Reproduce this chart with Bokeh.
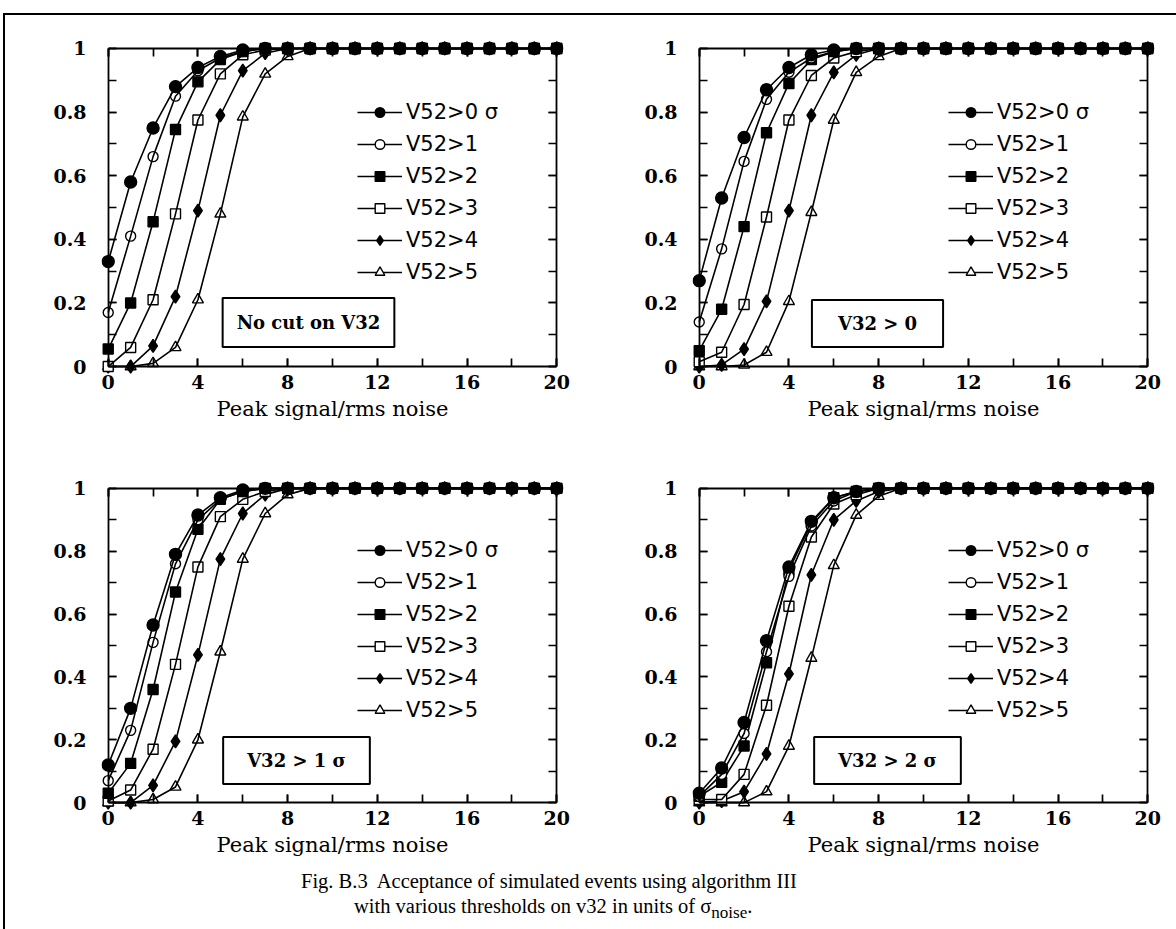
from bokeh.plotting import figure
from bokeh.models import (LinearAxis, SingleIntervalTicker, CustomJSTickFormatter,
                          Legend, LegendItem, Label, Range1d, Div)
from bokeh.layouts import row, column
from bokeh.embed import file_html
from bokeh.resources import INLINE

# ---------------- data ----------------
x_vals = [0, 1, 2, 3, 4, 5, 6, 7, 8, 9, 10, 11, 12, 13, 14, 15, 16, 17, 18, 19, 20]
series_labels = ["V52>0 σ", "V52>1", "V52>2", "V52>3", "V52>4", "V52>5"]
x_axis_title = "Peak signal/rms noise"
panel_titles = ["No cut on V32", "V32 > 0", "V32 > 1 σ", "V32 > 2 σ"]
caption_line1 = "Fig. B.3&nbsp; Acceptance of simulated events using algorithm III"
caption_line2 = "with various thresholds on v32 in units of σ<sub>noise</sub>."
x_limits = (0, 20)
y_limits = (0, 1)

# Panel 1: No cut on V32
nocut_v0 = [0.33, 0.58, 0.75, 0.88, 0.94, 0.975, 0.995, 1, 1, 1, 1, 1, 1, 1, 1, 1, 1, 1, 1, 1, 1]
nocut_v1 = [0.17, 0.41, 0.66, 0.85, 0.93, 0.97, 0.99, 1, 1, 1, 1, 1, 1, 1, 1, 1, 1, 1, 1, 1, 1]
nocut_v2 = [0.055, 0.20, 0.455, 0.745, 0.895, 0.965, 0.99, 1, 1, 1, 1, 1, 1, 1, 1, 1, 1, 1, 1, 1, 1]
nocut_v3 = [0.0, 0.06, 0.21, 0.48, 0.775, 0.92, 0.98, 0.995, 1, 1, 1, 1, 1, 1, 1, 1, 1, 1, 1, 1, 1]
nocut_v4 = [0.0, 0.0, 0.065, 0.22, 0.49, 0.79, 0.93, 0.985, 1, 1, 1, 1, 1, 1, 1, 1, 1, 1, 1, 1, 1]
nocut_v5 = [0.0, 0.0, 0.01, 0.06, 0.21, 0.48, 0.785, 0.92, 0.975, 1, 1, 1, 1, 1, 1, 1, 1, 1, 1, 1, 1]

# Panel 2: V32 > 0
c0_v0 = [0.27, 0.53, 0.72, 0.87, 0.94, 0.98, 0.995, 1, 1, 1, 1, 1, 1, 1, 1, 1, 1, 1, 1, 1, 1]
c0_v1 = [0.14, 0.37, 0.645, 0.84, 0.925, 0.97, 0.99, 1, 1, 1, 1, 1, 1, 1, 1, 1, 1, 1, 1, 1, 1]
c0_v2 = [0.05, 0.18, 0.44, 0.735, 0.89, 0.965, 0.99, 1, 1, 1, 1, 1, 1, 1, 1, 1, 1, 1, 1, 1, 1]
c0_v3 = [0.015, 0.045, 0.195, 0.47, 0.775, 0.915, 0.97, 0.99, 1, 1, 1, 1, 1, 1, 1, 1, 1, 1, 1, 1, 1]
c0_v4 = [0.0, 0.005, 0.055, 0.205, 0.49, 0.79, 0.925, 0.98, 1, 1, 1, 1, 1, 1, 1, 1, 1, 1, 1, 1, 1]
c0_v5 = [0.0, 0.0, 0.005, 0.045, 0.205, 0.485, 0.775, 0.925, 0.975, 1, 1, 1, 1, 1, 1, 1, 1, 1, 1, 1, 1]

# Panel 3: V32 > 1 sigma
c1_v0 = [0.12, 0.30, 0.565, 0.79, 0.915, 0.97, 0.995, 1, 1, 1, 1, 1, 1, 1, 1, 1, 1, 1, 1, 1, 1]
c1_v1 = [0.07, 0.23, 0.51, 0.76, 0.90, 0.965, 0.99, 1, 1, 1, 1, 1, 1, 1, 1, 1, 1, 1, 1, 1, 1]
c1_v2 = [0.03, 0.125, 0.36, 0.67, 0.87, 0.965, 0.99, 1, 1, 1, 1, 1, 1, 1, 1, 1, 1, 1, 1, 1, 1]
c1_v3 = [0.005, 0.04, 0.17, 0.44, 0.75, 0.91, 0.965, 0.99, 1, 1, 1, 1, 1, 1, 1, 1, 1, 1, 1, 1, 1]
c1_v4 = [0.0, 0.0, 0.055, 0.195, 0.47, 0.775, 0.92, 0.98, 1, 1, 1, 1, 1, 1, 1, 1, 1, 1, 1, 1, 1]
c1_v5 = [0.0, 0.0, 0.01, 0.05, 0.20, 0.48, 0.775, 0.92, 0.98, 1, 1, 1, 1, 1, 1, 1, 1, 1, 1, 1, 1]

# Panel 4: V32 > 2 sigma
c2_v0 = [0.03, 0.11, 0.255, 0.515, 0.75, 0.895, 0.97, 0.99, 1, 1, 1, 1, 1, 1, 1, 1, 1, 1, 1, 1, 1]
c2_v1 = [0.02, 0.09, 0.22, 0.48, 0.72, 0.88, 0.96, 0.99, 1, 1, 1, 1, 1, 1, 1, 1, 1, 1, 1, 1, 1]
c2_v2 = [0.02, 0.065, 0.18, 0.445, 0.74, 0.89, 0.97, 0.99, 1, 1, 1, 1, 1, 1, 1, 1, 1, 1, 1, 1, 1]
c2_v3 = [0.01, 0.01, 0.09, 0.31, 0.625, 0.845, 0.95, 0.98, 1, 1, 1, 1, 1, 1, 1, 1, 1, 1, 1, 1, 1]
c2_v4 = [0.0, 0.005, 0.035, 0.155, 0.41, 0.725, 0.90, 0.96, 0.99, 1, 1, 1, 1, 1, 1, 1, 1, 1, 1, 1, 1]
c2_v5 = [0.0, 0.0, 0.0, 0.035, 0.18, 0.46, 0.755, 0.915, 0.975, 1, 1, 1, 1, 1, 1, 1, 1, 1, 1, 1, 1]

panels_data = [
    [nocut_v0, nocut_v1, nocut_v2, nocut_v3, nocut_v4, nocut_v5],
    [c0_v0, c0_v1, c0_v2, c0_v3, c0_v4, c0_v5],
    [c1_v0, c1_v1, c1_v2, c1_v3, c1_v4, c1_v5],
    [c2_v0, c2_v1, c2_v2, c2_v3, c2_v4, c2_v5],
]

# ---------------- styles ----------------
marker_styles = [
    dict(marker="circle", size=12, fill_color="black"),
    dict(marker="circle", size=10, fill_color="white"),
    dict(marker="square", size=10, fill_color="black"),
    dict(marker="square", size=10, fill_color="white"),
    dict(marker="diamond", size=13, fill_color="black"),
    dict(marker="triangle", size=11, fill_color="white"),
]

SERIF = "DejaVu Serif"
SANS = "DejaVu Sans"
PAD_X = 0.3      # extra room so edge markers are not clipped
PAD_Y = 0.025
EMPTY = "return '';"


def x_ticker():
    return SingleIntervalTicker(interval=4, num_minor_ticks=2)


def y_ticker():
    return SingleIntervalTicker(interval=0.2, num_minor_ticks=2)


def frame_axis(ticker, loc, bounds):
    """Axis drawn at a fixed data location: gives the box line and its inward ticks."""
    ax = LinearAxis(ticker=ticker, fixed_location=loc, bounds=bounds,
                    formatter=CustomJSTickFormatter(code=EMPTY))
    ax.axis_line_color = "black"
    ax.axis_line_width = 1.8
    ax.major_tick_in = 8
    ax.major_tick_out = 0
    ax.minor_tick_in = 8
    ax.minor_tick_out = 0
    ax.major_tick_line_width = 1.7
    ax.minor_tick_line_width = 1.7
    ax.major_tick_line_color = "black"
    ax.minor_tick_line_color = "black"
    ax.major_label_standoff = 0
    ax.major_label_text_font_size = "1px"
    return ax


def label_axis(ticker, standoff):
    """Axis at the frame edge that only carries the tick labels."""
    ax = LinearAxis(ticker=ticker)
    ax.axis_line_color = None
    ax.major_tick_line_color = None
    ax.minor_tick_line_color = None
    ax.major_tick_in = 0
    ax.major_tick_out = 0
    ax.minor_tick_in = 0
    ax.minor_tick_out = 0
    ax.major_label_standoff = standoff
    ax.major_label_text_font = SERIF
    ax.major_label_text_font_size = "19px"
    ax.major_label_text_font_style = "bold"
    ax.major_label_text_color = "black"
    return ax


def make_panel(data, title, left_border, right_border, top_border, bottom_border,
               frame_h, legend_x, legend_y, box_x, box_y, box_pad_h, box_pad_v):
    p = figure(frame_width=462, frame_height=frame_h,
               x_range=Range1d(x_limits[0] - PAD_X, x_limits[1] + PAD_X),
               y_range=Range1d(y_limits[0] - PAD_Y, y_limits[1] + PAD_Y),
               output_backend="svg", toolbar_location=None,
               x_axis_type=None, y_axis_type=None,
               min_border_left=left_border, min_border_right=right_border,
               min_border_top=top_border, min_border_bottom=bottom_border,
               background_fill_color="white", border_fill_color="white")
    p.xgrid.visible = False
    p.ygrid.visible = False
    p.outline_line_color = None

    # box lines with inward ticks, at the data limits (each on its natural side)
    p.add_layout(frame_axis(x_ticker(), y_limits[0], x_limits), "below")
    p.add_layout(frame_axis(y_ticker(), x_limits[0], y_limits), "left")
    p.add_layout(frame_axis(x_ticker(), y_limits[1], x_limits), "above")
    p.add_layout(frame_axis(y_ticker(), x_limits[1], y_limits), "right")

    # labelled axes outside the box
    lb = label_axis(x_ticker(), 0)
    lb.axis_label = x_axis_title
    lb.axis_label_text_font = SERIF
    lb.axis_label_text_font_size = "21px"
    lb.axis_label_text_font_style = "normal"
    lb.axis_label_text_color = "black"
    lb.axis_label_standoff = 5
    ll = label_axis(y_ticker(), 15)
    ll.formatter = CustomJSTickFormatter(code="return Number(tick.toFixed(1)).toString();")
    p.add_layout(lb, "below")
    p.add_layout(ll, "left")

    renderers = []
    for ys, ms in zip(data, marker_styles):
        lr = p.line(x_vals, ys, line_color="black", line_width=1.6)
        sr = p.scatter(x_vals, ys, marker=ms["marker"], size=ms["size"],
                       fill_color=ms["fill_color"], line_color="black", line_width=1.4)
        renderers.append((lr, sr))
    p.renderers = list(reversed(p.renderers))

    items = [LegendItem(label=lab, renderers=[lr, sr]) for lab, (lr, sr) in zip(series_labels, renderers)]
    legend = Legend(items=items, location=(legend_x, legend_y), padding=0, margin=0, spacing=8,
                    glyph_width=45, glyph_height=24, label_height=24, label_standoff=4,
                    label_text_font=SANS, label_text_font_size="21px", label_text_color="black",
                    border_line_color=None, background_fill_alpha=0)
    p.add_layout(legend)

    box = Label(x=box_x, y=box_y, x_units="screen", y_units="screen", text=title,
                text_align="center", text_baseline="middle",
                text_font=SERIF, text_font_size="18px", text_font_style="bold",
                text_color="black",
                border_line_color="black", border_line_width=2,
                background_fill_color="white",
                padding=dict(left=box_pad_h, right=box_pad_h, top=box_pad_v, bottom=box_pad_v))
    p.add_layout(box)
    return p


p1 = make_panel(panels_data[0], panel_titles[0], 96, 57, 25, 66, 334, 256, 90, 207, 52, 14, 14)
p2 = make_panel(panels_data[1], panel_titles[1], 72, 16, 25, 66, 334, 256, 90, 185, 51, 26, 13)
p3 = make_panel(panels_data[2], panel_titles[2], 96, 57, 40, 62, 330, 256, 88, 195, 50, 24, 13)
p4 = make_panel(panels_data[3], panel_titles[3], 72, 16, 40, 62, 330, 256, 88, 195, 50, 24, 13)

caption = Div(text=(f'<div style="position:relative;top:-8px;margin-left:291px;line-height:25px">{caption_line1}</div>'
                    f'<div style="position:relative;top:-8px;margin-left:344px;line-height:25px">{caption_line2}</div>'),
              width=1165, height=56,
              styles={"font-family": "Liberation Serif", "font-size": "20.5px", "color": "black"})

layout = column(row(p1, p2), row(p3, p4), caption,
                styles={"border": "2px solid black", "border-bottom": "none",
                        "background-color": "white"},
                margin=(13, 0, 0, 3))

open("out.html", "w").write(file_html(layout, INLINE))
